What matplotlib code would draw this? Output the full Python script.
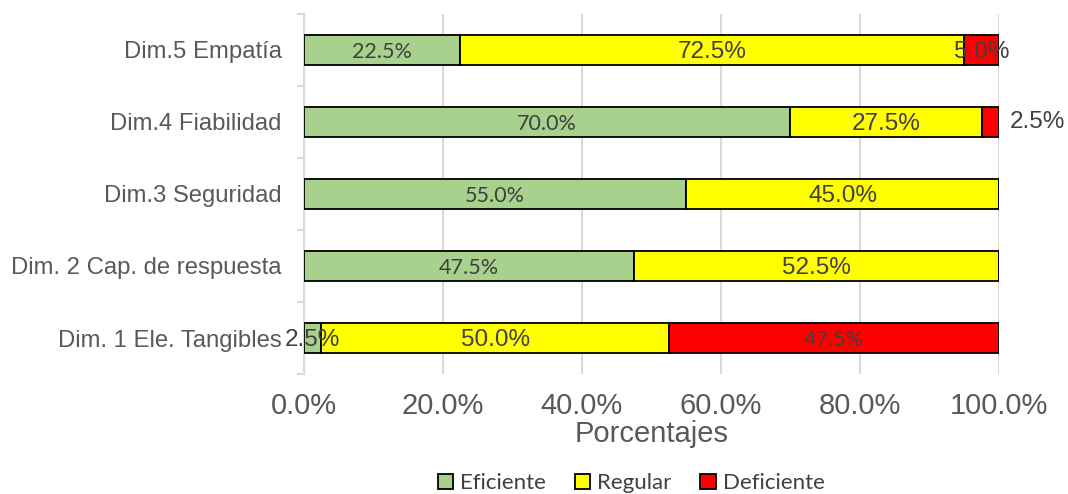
import matplotlib
matplotlib.use('Agg')
import matplotlib.pyplot as plt
from matplotlib.ticker import FuncFormatter, MultipleLocator
from matplotlib.patches import Patch
import numpy as np

# data (bottom to top, as drawn)
categories = ['Dim. 1 Ele. Tangibles', 'Dim. 2 Cap. de respuesta', 'Dim.3 Seguridad',
              'Dim.4 Fiabilidad', 'Dim.5 Empatía']
eficiente = [2.5, 47.5, 55.0, 70.0, 22.5]
regular = [50.0, 52.5, 45.0, 27.5, 72.5]
deficiente = [47.5, 0.0, 0.0, 2.5, 5.0]
series_names = ['Eficiente', 'Regular', 'Deficiente']
colors = ['#A9D18E', '#FFFF00', '#FF0000']

grey = '#595959'
label_grey = '#404040'

fig = plt.figure(figsize=(10.68, 4.94), dpi=100)
ax = fig.add_axes([0.2846, 0.2429, 0.6508, 0.7288])

y = np.arange(len(categories))
left = np.zeros(len(categories))
bar_h = 0.42
for name, vals, col in zip(series_names, [eficiente, regular, deficiente], colors):
    vals = np.array(vals)
    ax.barh(y, vals, left=left, height=bar_h, color=col, edgecolor='black',
            linewidth=1.3, zorder=3)
    for yi, (l, v) in enumerate(zip(left, vals)):
        if v <= 0:
            continue
        txt = f'{v:.1f}%'
        if name == 'Eficiente' and v > 5 or (name == 'Deficiente' and v > 10):
            # Calibri-like labels
            ax.text(l + v / 2, yi - 0.03, txt, ha='center', va='center',
                    fontsize=15.5, family='Lato', color=label_grey, zorder=4)
        elif name == 'Deficiente' and yi == 3:
            # small segment, label sits outside the bar
            ax.text(101.5, yi, txt, ha='left', va='center',
                    fontsize=17.5, family='Liberation Sans', color=label_grey, zorder=4)
        else:
            ax.text(l + v / 2, yi - 0.03, txt, ha='center', va='center',
                    fontsize=17.5, family='Liberation Sans', color=label_grey, zorder=4)
    left = left + vals

ax.set_xlim(0, 100)
ax.set_ylim(-0.5, len(categories) - 0.5)
ax.xaxis.set_major_locator(MultipleLocator(20))
ax.xaxis.set_major_formatter(FuncFormatter(lambda v, p: f'{v:.1f}%'))
ax.grid(axis='x', color='#d9d9d9', linewidth=1.5, zorder=0)

ax.set_yticks(y)
ax.set_yticklabels(categories, family='Liberation Sans', fontsize=17.2, color=grey)
ax.set_yticks(np.arange(-0.5, len(categories)), minor=True)
ax.tick_params(axis='y', which='major', length=0, pad=16)
ax.tick_params(axis='y', which='minor', length=5, color='#d9d9d9', width=1.5)
ax.tick_params(axis='x', length=0, pad=13, labelsize=21, labelcolor=grey)
for lbl in ax.get_xticklabels():
    lbl.set_family('Liberation Sans')

for s in ['top', 'right', 'bottom']:
    ax.spines[s].set_visible(False)
ax.spines['left'].set_color('#d9d9d9')
ax.spines['left'].set_linewidth(1.5)

ax.set_xlabel('Porcentajes', family='Liberation Sans', fontsize=21, color=grey, labelpad=0)

handles = [Patch(facecolor=c, edgecolor='black', linewidth=1.3) for c in colors]
fig.legend(handles, series_names, loc='center', bbox_to_anchor=(0.591, 0.022), ncol=3,
           frameon=False, prop={'family': 'Lato', 'size': 16}, labelcolor=label_grey,
           handlelength=0.7, handleheight=0.7, handletextpad=0.3, columnspacing=1.3)

fig.savefig('out.png', dpi=100)
